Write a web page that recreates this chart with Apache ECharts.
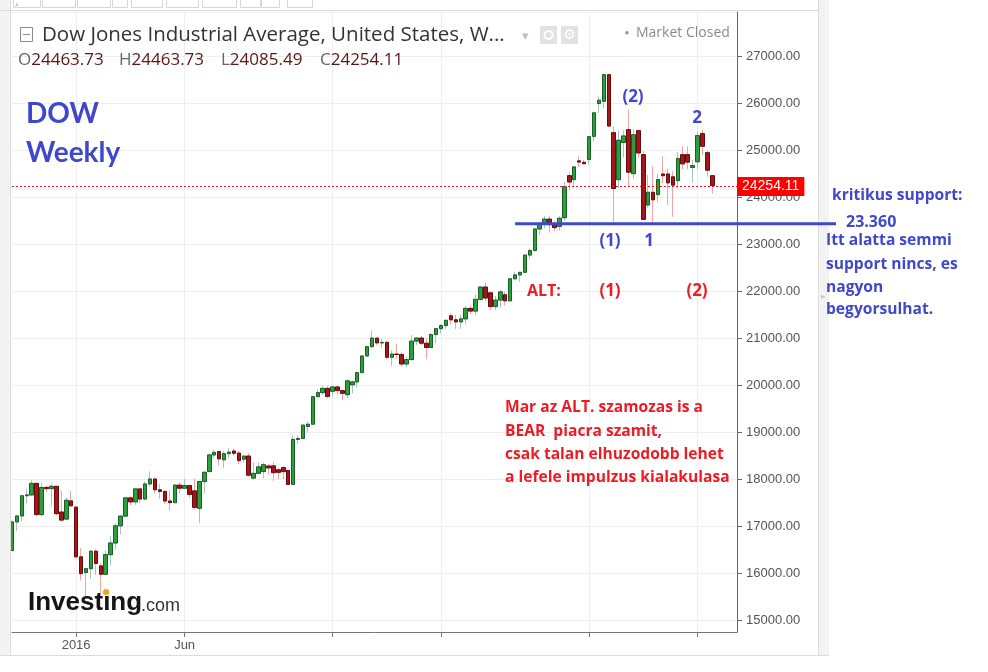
<!DOCTYPE html>
<html>
<head>
<meta charset="utf-8">
<script src="https://cdn.jsdelivr.net/npm/echarts@6/dist/echarts.min.js"></script>
<style>
  html, body { margin: 0; padding: 0; background: #fff; }
  #chart { width: 988px; height: 672px; }
</style>
</head>
<body>
<div id="chart"></div>
<script>
// Weekly DOW candles, first week starting 2015-10-05.
const firstWeek = '2015-10-05';
const emptyWeeksAfter = 5;

const opens = [
  16480, 17090, 17216, 17647, 17664, 17910, 17245, 17824, 17798, 17848, 17300, 17150, 17538,
  17405, 16346, 16013, 16094, 16466, 16153, 15974, 16392, 16640, 17007, 17213, 17602, 17516,
  17793, 17577, 17898, 18004, 17774, 17740, 17535, 17500, 17873, 17807, 17865, 17751, 17380,
  17949, 18163, 18516, 18590, 18412, 18543, 18600, 18555, 18426, 18492, 18022, 18124, 18163,
  18280, 18284, 18200, 18245, 18185, 17888, 18847, 18868, 19123, 19171, 19757, 19843, 19934,
  19872, 19964, 19886, 19800, 20010, 20071, 20269, 20624, 20822, 21005, 20902, 20914, 20596,
  20663, 20656, 20453, 20547, 20940, 21006, 20896, 20804, 21080, 21206, 21271, 21480, 21394,
  21350, 21414, 21638, 21580, 21830, 22092, 21970, 21675, 21814, 21928, 21798, 22268, 22350,
  22405, 22773, 22871, 23329, 23440, 23539, 23440, 23384, 23569, 24464, 24380, 24780, 24748,
  24809, 25301, 26000, 26049, 26616, 25380, 24379, 25170, 25444, 24507, 25423, 24912, 23840,
  24110, 24060, 24500, 24500, 24440, 24358, 24912, 24912, 24640, 24760, 25360, 24954, 24463.73
];
const highs = [
  17100, 17220, 17651, 17800, 17977, 17910, 17914, 17860, 17900, 17850, 17750, 17605, 17750,
  17405, 16534, 16100, 16486, 16510, 16205, 16485, 16795, 17062, 17240, 17620, 17640, 17800,
  17800, 17950, 18168, 18040, 17900, 17750, 17760, 17900, 17930, 18003, 17865, 18010, 17950,
  18160, 18550, 18620, 18600, 18600, 18668, 18650, 18600, 18500, 18560, 18360, 18360, 18350,
  18320, 18370, 18250, 18280, 18200, 18934, 18935, 19153, 19225, 19757, 19911, 19987, 19981,
  19999, 19999, 19900, 20125, 20100, 20298, 20639, 20840, 21169, 21005, 20992, 20950, 20740,
  20887, 20700, 20600, 21070, 21030, 21050, 21000, 21113, 21206, 21305, 21392, 21535, 21500,
  21500, 21681, 21681, 21929, 22100, 22180, 22000, 21900, 22030, 21990, 22275, 22420, 22420,
  22777, 22905, 23330, 23485, 23602, 23602, 23500, 23600, 24327, 24534, 24670, 24876, 24800,
  25300, 25810, 26154, 26617, 26616, 25520, 25430, 25430, 25870, 25450, 25450, 24990, 24480,
  24663, 24500, 24875, 24620, 24560, 24970, 25090, 25090, 24800, 25400, 25444, 25000, 24463.73
];
const lows = [
  16470, 16890, 17100, 17480, 17650, 17210, 17210, 17720, 17420, 17230, 17120, 17128, 17425,
  16314, 15842, 15470, 15880, 15960, 15510, 15974, 16160, 16500, 16820, 17200, 17440, 17450,
  17484, 17550, 17850, 17700, 17580, 17470, 17330, 17490, 17700, 17807, 17600, 17356, 17063,
  17700, 18140, 18450, 18300, 18240, 18450, 18500, 18320, 18350, 18050, 17990, 18100, 18020,
  18100, 17960, 18000, 18000, 17884, 17888, 18750, 18868, 19000, 19171, 19757, 19800, 19718,
  19760, 19800, 19677, 19731, 19830, 19950, 20269, 20624, 20800, 20860, 20800, 20550, 20412,
  20560, 20400, 20380, 20547, 20860, 20850, 20553, 20800, 20900, 21100, 21200, 21300, 21200,
  21200, 21300, 21520, 21500, 21800, 21800, 21600, 21600, 21650, 21700, 21798, 22250, 22200,
  22400, 22700, 22850, 23200, 23350, 23250, 23277, 23300, 23500, 24150, 24200, 24650, 24700,
  24700, 25200, 25800, 25900, 25500, 23460, 24200, 24848, 24250, 24400, 24850, 23510, 23780,
  23420, 23900, 24300, 23846, 23590, 24200, 24600, 24600, 24315, 24600, 24900, 24443, 24085.49
];
const closes = [
  17090, 17216, 17647, 17664, 17910, 17245, 17824, 17798, 17848, 17265, 17128, 17552, 17432,
  16346, 15988, 16094, 16466, 16205, 15974, 16392, 16640, 17007, 17213, 17602, 17516, 17793,
  17577, 17898, 18004, 17774, 17740, 17535, 17500, 17873, 17807, 17865, 17675, 17400, 17949,
  18147, 18516, 18571, 18432, 18543, 18576, 18552, 18395, 18492, 18085, 18124, 18262, 18308,
  18240, 18138, 18146, 18161, 17888, 18847, 18868, 19152, 19171, 19757, 19843, 19934, 19763,
  19964, 19886, 19827, 20094, 20071, 20269, 20624, 20822, 21005, 20902, 20914, 20596, 20663,
  20656, 20453, 20547, 20940, 21006, 20896, 20804, 21080, 21206, 21271, 21384, 21394, 21350,
  21414, 21638, 21580, 21830, 22092, 21858, 21675, 21814, 21988, 21798, 22268, 22350, 22405,
  22773, 22871, 23329, 23434, 23539, 23422, 23358, 23558, 24231, 24329, 24651, 24754, 24719,
  25295, 25803, 26071, 26616, 25521, 24190, 25219, 25310, 24538, 25336, 24947, 23533, 24110,
  23950, 24380, 24463, 24311, 24263, 24831, 24715, 24753, 24680, 25317, 25090, 24581, 24254.11
];

// x ticks: index of the first week of the month, and their labels
const tickWeeks = [13, 35, 65, 87, 117, 139];
const tickLabels = ['2016', 'Jun', '', '', '', ''];

// header quote of the last week
const quoteKeys = ['O', 'H', 'L', 'C'];
const quoteValues = ['24463.73', '24463.73', '24085.49', '24254.11'];

const priceMin = 14745;
const priceMax = 27950;
const lastPrice = 24254.11;
const supportLevel = 23440;
const supportFromWeek = 102;

// ---- build categories (week dates) ----
const weeks = [];
{
  const d = new Date(firstWeek + 'T00:00:00Z');
  for (let i = 0; i < opens.length + emptyWeeksAfter; i++) {
    weeks.push(d.toISOString().slice(0, 10));
    d.setUTCDate(d.getUTCDate() + 7);
  }
}
const tickSet = new Set(tickWeeks);
const labelAt = {};
tickWeeks.forEach((w, i) => { labelAt[w] = tickLabels[i]; });

const wicks = opens.map((o, i) => [o, closes[i], lows[i], highs[i]]);
const bodies = opens.map((o, i) => [o, closes[i], Math.min(o, closes[i]), Math.max(o, closes[i])]);

const BLUE = '#3f48cc';
const RED = '#ed1c24';
const NOTE_FONT = '"Open Sans", Lato, sans-serif';
const UI_FONT = '"Open Sans", "Noto Sans", sans-serif';
const AXIS_FONT = '"Liberation Sans", Arial, sans-serif';

const chart = echarts.init(document.getElementById('chart'), null, { renderer: 'canvas' });

chart.setOption({
  animation: false,
  backgroundColor: '#fff',
  grid: { left: 12, right: 251, top: 12, bottom: 40 },
  xAxis: {
    type: 'category',
    data: weeks,
    boundaryGap: false,
    axisLine: { lineStyle: { color: '#777' } },
    axisTick: { interval: (i) => tickSet.has(i), length: 5, lineStyle: { color: '#777' } },
    axisLabel: {
      interval: (i) => tickSet.has(i),
      formatter: (v, i) => labelAt[i] || '',
      color: '#555', fontSize: 13, fontFamily: AXIS_FONT, margin: 7,
    },
    splitLine: { show: true, interval: (i) => tickSet.has(i), lineStyle: { color: '#eeeeee' } },
  },
  yAxis: {
    type: 'value',
    position: 'right',
    min: priceMin,
    max: priceMax,
    splitNumber: 13,
    minInterval: 1000,
    maxInterval: 1000,
    axisLine: { show: true, lineStyle: { color: '#666' } },
    axisTick: { show: true, length: 5, lineStyle: { color: '#666' } },
    axisLabel: {
      formatter: (v) => v.toFixed(2), color: '#555', fontSize: 13, fontFamily: AXIS_FONT,
      margin: 9, showMinLabel: false, showMaxLabel: false,
    },
    splitLine: { show: true, lineStyle: { color: '#eeeeee' } },
  },
  series: [
    {
      name: 'wicks',
      type: 'candlestick',
      data: wicks,
      barWidth: 4,
      silent: true,
      itemStyle: {
        color: 'transparent', color0: 'transparent',
        borderColor: '#a9c0c6', borderColor0: '#f2a3a3', borderWidth: 1,
      },
    },
    {
      name: 'DOW',
      type: 'candlestick',
      data: bodies,
      barWidth: 4,
      itemStyle: {
        color: '#2a9f3c', color0: '#a3161b',
        borderColor: '#1b5d27', borderColor0: '#680b0d', borderWidth: 1,
      },
    },
  ],
});

// ---- annotations / panel decoration ----
function txt(x, y, text, fill, size, weight, family, align) {
  return {
    type: 'text', z: 100,
    style: {
      x, y, text, fill, fontSize: size, fontWeight: weight || 'normal',
      fontFamily: family || NOTE_FONT, align: align || 'left', verticalAlign: 'middle',
    },
  };
}
function box(x, y, w, h, fill, stroke) {
  return { type: 'rect', z: 90, shape: { x, y, width: w, height: h }, style: { fill: fill || 'none', stroke: stroke || 'none', lineWidth: 1 } };
}
function seg(x1, y1, x2, y2, color, width, dash) {
  return { type: 'line', z: 95, shape: { x1, y1, x2, y2 }, style: { stroke: color, lineWidth: width || 1, lineDash: dash || null } };
}

const sy = chart.convertToPixel({ yAxisIndex: 0 }, supportLevel);
const sx = chart.convertToPixel({ xAxisIndex: 0 }, supportFromWeek);
const ly = Math.round(chart.convertToPixel({ yAxisIndex: 0 }, lastPrice)) + 0.5;

const toolbarBoxes = [[13, 27], [42, 33], [77, 33], [112, 15], [131, 31], [166, 32], [202, 34], [240, 20], [261, 18], [287, 25]];
const quoteX = [18, 119, 221, 320];

const graphics = [
  // panel frame
  box(0, 0, 10, 656, '#f3f3f3'),
  seg(10.5, 0, 10.5, 656, '#dcdcdc'),
  seg(0, 10.5, 818, 10.5, '#dcdcdc'),
  box(819, 0, 10, 656, '#f3f3f3'),
  seg(818.5, 0, 818.5, 656, '#dcdcdc'),
  seg(0, 655.5, 829, 655.5, '#dcdcdc'),
  txt(823, 297, '▸', '#c8c8c8', 9, 'normal', AXIS_FONT, 'center'),
  txt(17, 4, '▲', '#c8c8c8', 6, 'normal', AXIS_FONT, 'center'),
  ...toolbarBoxes.map(([x, w]) => box(x + 0.5, -4.5, w, 12, '#fff', '#d6d6d6')),

  // last price guide (red dotted) and its tag on the price axis
  seg(12, ly, 737, ly, '#e8141c', 1, [2, 2]),
  {
    type: 'text', z: 100,
    style: {
      x: 737, y: ly, text: lastPrice.toFixed(2), fill: '#fff', fontSize: 14, fontFamily: AXIS_FONT,
      align: 'left', verticalAlign: 'middle', backgroundColor: '#ff0000', padding: [3, 5, 2, 5],
    },
  },

  // header
  box(20.5, 27.5, 12, 14, '#fff', '#8a8a8a'),
  seg(23, 34.5, 30, 34.5, '#8a8a8a'),
  txt(42, 35, 'Dow Jones Industrial Average, United States, W...', '#333', 20.5, 'normal', UI_FONT),
  txt(525, 36, '▾', '#c0c0c0', 13, 'normal', UI_FONT, 'center'),
  box(540, 26, 17, 18, '#e2e2e2'),
  { type: 'circle', z: 95, shape: { cx: 548.5, cy: 35, r: 4 }, style: { fill: 'none', stroke: '#fff', lineWidth: 2 } },
  box(561, 26, 17, 18, '#e2e2e2'),
  txt(569.5, 35, '⚙', '#fff', 14, 'normal', '"DejaVu Sans"', 'center'),
  txt(627, 33, '●', '#999', 8, 'normal', AXIS_FONT, 'center'),
  txt(636, 33, 'Market Closed', '#8a8a8a', 14, 'normal', UI_FONT),
  ...quoteKeys.map((k, i) => ({
    type: 'text', z: 100,
    style: {
      x: quoteX[i], y: 60, verticalAlign: 'middle',
      text: '{k|' + k + '}{v|' + quoteValues[i] + '}',
      rich: {
        k: { fill: '#666', fontSize: 17, fontFamily: UI_FONT },
        v: { fill: '#5c1414', fontSize: 17, fontFamily: UI_FONT },
      },
    },
  })),

  // chart annotations
  txt(26, 114, 'DOW', BLUE, 28, 'bold', 'Lato, sans-serif'),
  txt(26, 153, 'Weekly', BLUE, 28, 'bold', 'Lato, sans-serif'),
  seg(sx, sy, 836, sy, BLUE, 3),
  txt(633, 97, '(2)', BLUE, 17, 'bold', NOTE_FONT, 'center'),
  txt(697, 118, '2', BLUE, 17, 'bold', NOTE_FONT, 'center'),
  txt(610, 241, '(1)', BLUE, 17, 'bold', NOTE_FONT, 'center'),
  txt(649, 241, '1', BLUE, 17, 'bold', NOTE_FONT, 'center'),
  txt(527, 291, 'ALT:', RED, 16, 'bold'),
  txt(610, 291, '(1)', RED, 17, 'bold', NOTE_FONT, 'center'),
  txt(697, 291, '(2)', RED, 17, 'bold', NOTE_FONT, 'center'),
  txt(505, 408, 'Mar az ALT. szamozas is a', RED, 15.6, 'bold'),
  txt(505, 432, 'BEAR  piacra szamit,', RED, 15.6, 'bold'),
  txt(505, 455, 'csak talan elhuzodobb lehet', RED, 15.6, 'bold'),
  txt(505, 478, 'a lefele impulzus kialakulasa', RED, 15.6, 'bold'),
  txt(832, 196, 'kritikus support:', BLUE, 15.6, 'bold'),
  txt(846, 222, '23.360', BLUE, 16, 'bold'),
  txt(826, 241, 'Itt alatta semmi', BLUE, 15.6, 'bold'),
  txt(826, 265, 'support nincs, es', BLUE, 15.6, 'bold'),
  txt(826, 288, 'nagyon', BLUE, 15.6, 'bold'),
  txt(826, 310, 'begyorsulhat.', BLUE, 15.6, 'bold'),

  // logo
  txt(28, 603, 'Investing', '#151515', 26, 'bold', AXIS_FONT),
  txt(141, 606, '.com', '#333', 18, 'normal', AXIS_FONT),
  { type: 'circle', z: 101, shape: { cx: 106, cy: 592, r: 3 }, style: { fill: '#f6a21e' } },
];

chart.setOption({ graphic: graphics });
</script>
</body>
</html>
